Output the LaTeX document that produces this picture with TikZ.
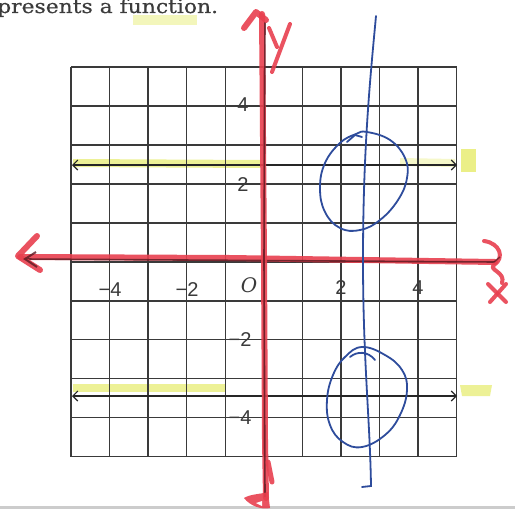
\documentclass[tikz,border=0pt]{standalone}
\usepackage{fontspec}
\setmainfont{DejaVu Serif}
\newfontfamily\titlefont[FakeStretch=1.15, FakeBold=0.5]{DejaVu Serif}
\newfontfamily\lblfont{Liberation Sans}
\usetikzlibrary{arrows.meta}
\definecolor{gridc}{HTML}{3A3A3A}
\definecolor{redm}{HTML}{E8404F}
\definecolor{redcore}{HTML}{5A1A22}
\definecolor{bluep}{HTML}{2E4C9C}
\definecolor{hiyel}{HTML}{E6EC6A}
\definecolor{txtc}{HTML}{3C3C3C}
\tikzset{
  gridline/.style={draw=gridc, line width=1.4pt},
  arrowline/.style={draw=black!85, line width=1.1pt, {Straight Barb[length=5pt,width=10pt]}-{Straight Barb[length=5pt,width=10pt]}},
  redmark/.style={draw=redm, line width=6pt, line cap=round, line join=round, opacity=0.9},
  redthin/.style={draw=redm, line width=4pt, line cap=round, line join=round, opacity=0.9},
  core/.style={draw=redcore, line width=1.6pt, opacity=0.8},
  bluepen/.style={draw=bluep, line width=1.8pt, line cap=round, line join=round},
  hilite/.style={draw=hiyel, line width=8pt, opacity=0.7},
  lbl/.style={font=\lblfont\fontsize{20}{20}\selectfont, text=gridc, inner sep=0pt},
}
\begin{document}
\begin{tikzpicture}[x=1pt, y=-1pt]
\clip (0,0) rectangle (515,519);
\fill[white] (0,0) rectangle (515,519);
% top text and its highlight
\fill[hiyel, opacity=0.45] (133,15) rectangle (197,25);
\node[anchor=base west, inner sep=0pt, text=txtc, font=\titlefont\fontsize{19}{19}\selectfont] (title) at (-3,13) {presents a function.};
% bottom separator
\draw[draw=black!20, line width=3pt] (0,507) -- (515,507);
% highlighter strokes
\draw[hilite] (73,163) -- (260,164);
\draw[hilite, opacity=0.35] (400,162) -- (455,163);
\fill[hiyel, opacity=0.8] (461,149) rectangle (476,172);
\draw[hilite] (73,388) -- (225,388);
\fill[hiyel, opacity=0.7] (460,385) -- (492,385) -- (490,396) -- (462,396) -- cycle;
% grid
\foreach \i in {0,...,10} {
  \draw[gridline] ({71+\i*38.57},67) -- ({71+\i*38.57},457);
  \draw[gridline] (71,{67+\i*38.97}) -- (457,{67+\i*38.97});
}
% horizontal printed arrows
\draw[arrowline] (72,165) -- (457,165);
\draw[arrowline] (72,396) -- (457,396);
% labels
\node[lbl] (l4) at (243,105) {4};
\node[lbl] (l2) at (243,185) {2};
\node[lbl] (lm2) at (240,340) {−2};
\node[lbl] (lm4) at (240,418) {−4};
\node[lbl] (xm4) at (110,290) {−4};
\node[lbl] (xm2) at (187,290) {−2};
\node[lbl, font=\fontsize{20}{20}\selectfont\itshape] (lo) at (249,285) {O};
\node[lbl] (x2) at (341,288) {2};
\node[lbl] (x4) at (418,288) {4};
% red x-axis
\draw[redmark] (20,257) -- (230,258) -- (495,262);
\draw[core] (24,259) -- (495,262);
\draw[redmark] (37,236) -- (18,256) -- (40,270);
\draw[draw=redcore, line width=2pt, opacity=0.8] (36,252) -- (25,259) -- (37,267);
\draw[redthin] (484,241) .. controls (500,243) and (505,258) .. (494,265) .. controls (488,270) and (506,272) .. (502,283);
\draw[redthin] (488,284) -- (506,302);
\draw[redthin] (506,284) -- (490,302);
\draw[draw=redcore, line width=1.5pt, opacity=0.7] (494,262) -- (500,257);
% red y-axis
\draw[redmark] (262,14) -- (264,260) -- (265,440) -- (266,498);
\draw[core] (265,22) -- (264,260) -- (265,497);
\draw[redmark, line width=5pt] (268,462) -- (272,482);
\draw[redmark] (244,28) -- (256,12) -- (266,20);
\draw[redthin] (269,28) -- (277,47);
\draw[redthin] (290,24) -- (272,72);
\fill[redm, opacity=0.9] (244,498) .. controls (250,494) and (262,494) .. (268,492) -- (270,508) .. controls (262,510) and (250,506) .. cycle;
\fill[white] (256,503) -- (262,501) -- (262,506) -- cycle;
% blue vertical line
\draw[bluep, line width=1.8pt, line cap=round] (376,16) .. controls (370,80) and (363,150) .. (363,260) .. controls (363,360) and (370,420) .. (371,486) -- (362,487);
% blue ovals
\draw[bluepen] plot[smooth cycle, tension=0.7] coordinates {(367,132) (390,140) (405,158) (407,178) (398,200) (380,220) (360,230) (340,228) (325,212) (320,188) (325,163) (340,143) (356,134)};
\draw[bluepen] (347,142) -- (355,135) -- (362,137);
\draw[bluepen] plot[smooth cycle, tension=0.7] coordinates {(362,347) (385,355) (402,370) (407,390) (400,415) (385,435) (362,447) (343,442) (330,425) (327,400) (333,375) (345,357)};
\draw[bluepen] (350,357) .. controls (357,351) and (368,351) .. (375,360);
\end{tikzpicture}
\end{document}
